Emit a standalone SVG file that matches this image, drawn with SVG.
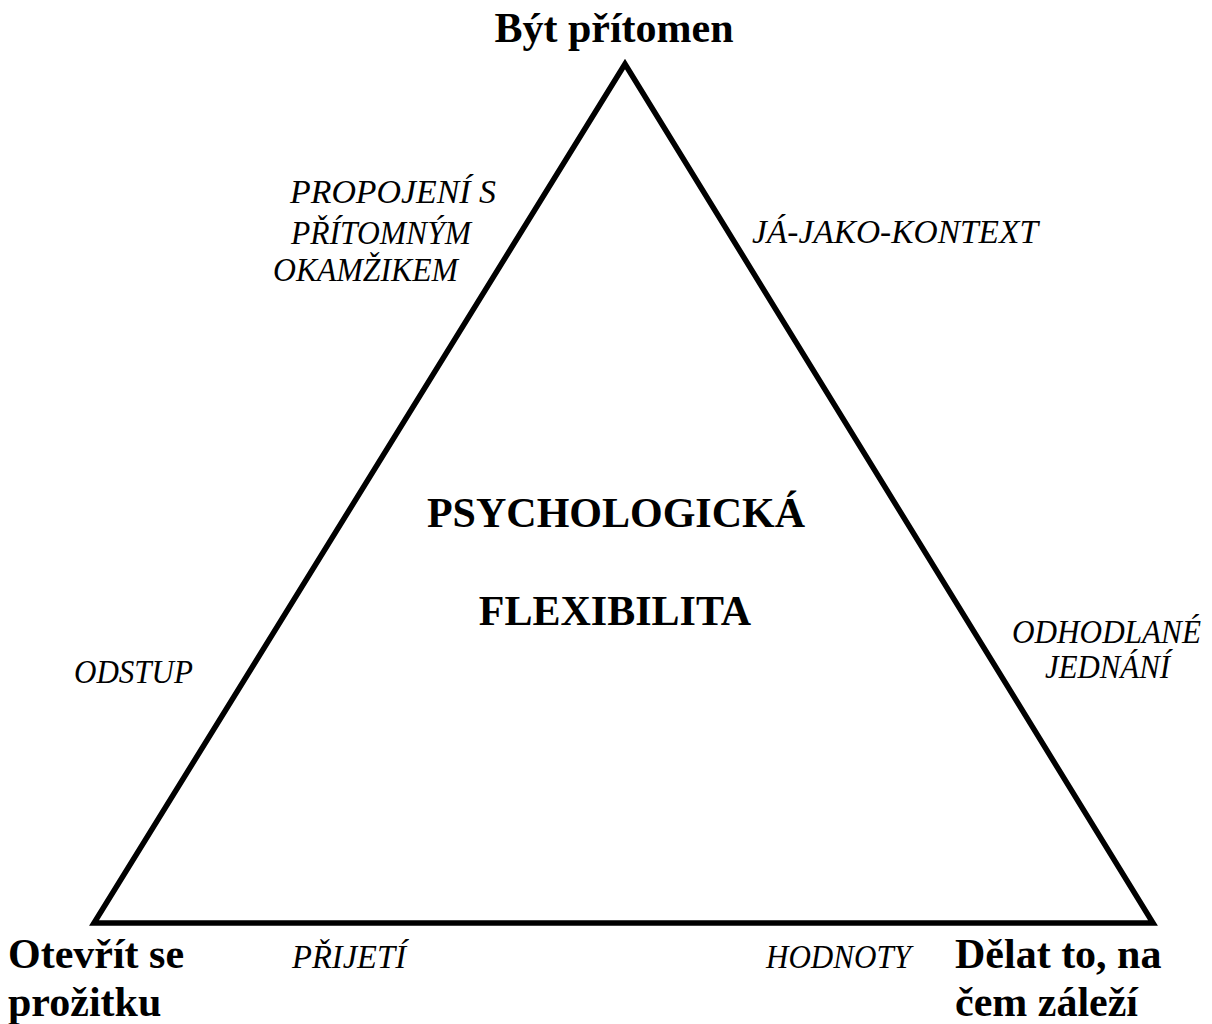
<svg xmlns="http://www.w3.org/2000/svg" width="1212" height="1024" viewBox="0 0 1212 1024">
<style>
.b{font-family:"Liberation Serif","Times New Roman",serif;font-weight:bold;font-size:42px;fill:#000}
.i{font-family:"Liberation Serif","Times New Roman",serif;font-style:italic;font-size:33px;fill:#000}
</style>
<rect width="1212" height="1024" fill="#fff"/>
<g id="connectors">
<polygon points="625,64 94,923 1153,923" fill="none" stroke="#000" stroke-width="5.5" stroke-linejoin="miter"/>
</g>
<g id="top"><text class="b" x="614" y="42" text-anchor="middle">Být přítomen</text></g>
<g id="left"><text class="b" x="8" y="968">Otevřít se</text><text class="b" x="8" y="1016">prožitku</text></g>
<g id="right"><text class="b" x="955" y="968">Dělat to, na</text><text class="b" x="955" y="1016">čem záleží</text></g>
<g id="center"><text class="b" x="616" y="527" text-anchor="middle">PSYCHOLOGICKÁ</text><text class="b" x="615" y="625" text-anchor="middle">FLEXIBILITA</text></g>
<g id="propojeni"><text class="i" x="290" y="203" textLength="206" lengthAdjust="spacingAndGlyphs">PROPOJENÍ S</text><text class="i" x="291" y="244" textLength="180" lengthAdjust="spacingAndGlyphs">PŘÍTOMNÝM</text><text class="i" x="273" y="281" textLength="185" lengthAdjust="spacingAndGlyphs">OKAMŽIKEM</text></g>
<g id="ja"><text class="i" x="752" y="243" textLength="286" lengthAdjust="spacingAndGlyphs">JÁ-JAKO-KONTEXT</text></g>
<g id="odstup"><text class="i" x="74" y="683" textLength="119" lengthAdjust="spacingAndGlyphs">ODSTUP</text></g>
<g id="jednani"><text class="i" x="1012" y="643" textLength="189" lengthAdjust="spacingAndGlyphs">ODHODLANÉ</text><text class="i" x="1045" y="678" textLength="125" lengthAdjust="spacingAndGlyphs">JEDNÁNÍ</text></g>
<g id="prijeti"><text class="i" x="292" y="968" textLength="114" lengthAdjust="spacingAndGlyphs">PŘIJETÍ</text></g>
<g id="hodnoty"><text class="i" x="766" y="968" textLength="145" lengthAdjust="spacingAndGlyphs">HODNOTY</text></g>
</svg>
